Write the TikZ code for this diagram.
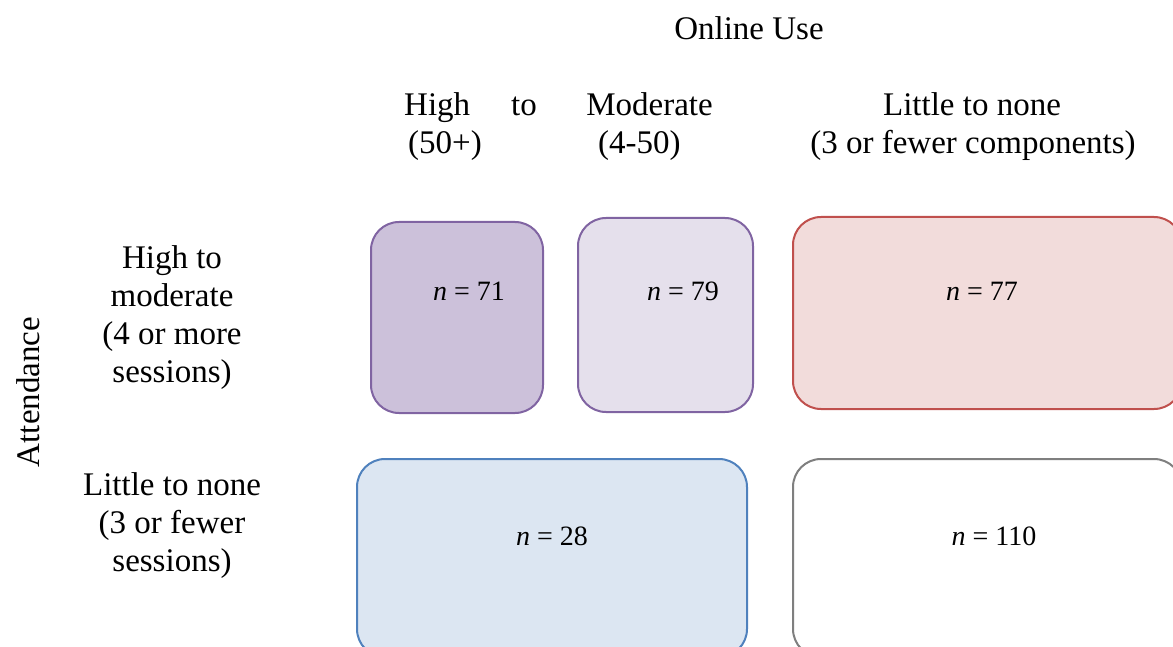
\documentclass[tikz,border=0pt]{standalone}
\usepackage{fontspec}
\setmainfont{Liberation Serif}
\definecolor{purpleline}{HTML}{8064A2}
\definecolor{purpledark}{HTML}{CCC1DA}
\definecolor{purplelight}{HTML}{E5E0EC}
\definecolor{redline}{HTML}{C0504D}
\definecolor{redfill}{HTML}{F2DCDB}
\definecolor{blueline}{HTML}{4F81BD}
\definecolor{bluefill}{HTML}{DCE6F2}
\definecolor{grayline}{HTML}{7F7F7F}
\begin{document}
\begin{tikzpicture}[x=1pt,y=-1pt,
  cellbox/.style={draw, line width=2pt, rounded corners=28pt, inner sep=0pt},
  lbl/.style={inner sep=0pt, align=center, font=\fontsize{33}{38}\selectfont},
  nlbl/.style={inner sep=0pt, anchor=base, font=\fontsize{28}{32}\selectfont}]
\useasboundingbox (0,0) rectangle (1173,647);
\clip (0,0) rectangle (1173,647);
% boxes
\node[cellbox, fill=purpledark, draw=purpleline, minimum width=172pt, minimum height=191pt] (b1) at (457,317.5) {};
\node[cellbox, fill=purplelight, draw=purpleline, minimum width=175pt, minimum height=194pt] (b2) at (665.5,315) {};
\node[cellbox, fill=redfill, draw=redline, minimum width=389pt, minimum height=192pt] (b3) at (987.5,313) {};
\node[cellbox, fill=bluefill, draw=blueline, minimum width=390pt, minimum height=198pt] (b4) at (552,558) {};
\node[cellbox, fill=white, draw=grayline, minimum width=389pt, minimum height=198pt] (b5) at (987.5,558) {};
% box labels
\node[nlbl] (n1) at (469,300) {\textit{n} = 71};
\node[nlbl] (n2) at (683,300) {\textit{n} = 79};
\node[nlbl] (n3) at (982,300) {\textit{n} = 77};
\node[nlbl] (n4) at (552,545) {\textit{n} = 28};
\node[nlbl] (n5) at (994,545) {\textit{n} = 110};
% header
\node[lbl] (online) at (749,28) {Online Use};
\node[lbl, anchor=base west] (high) at (404,116) {High};
\node[lbl, anchor=base] (to) at (524,116) {to};
\node[lbl, anchor=base east] (moderate) at (713,116) {Moderate};
\node[lbl, anchor=base west] (fifty) at (408,154) {(50+)};
\node[lbl, anchor=base west] (fourfifty) at (598,154) {(4-50)};
\node[lbl, anchor=base] (little) at (972,116) {Little to none};
\node[lbl, anchor=base] (comp) at (973,154) {(3 or fewer components)};
% left labels
\node[lbl] (hm) at (172,318) {High to\\moderate\\(4 or more\\sessions)};
\node[lbl] (ln) at (172,526) {Little to none\\(3 or fewer\\sessions)};
\node[lbl, rotate=90] (att) at (28,392) {Attendance};
\end{tikzpicture}
\end{document}
